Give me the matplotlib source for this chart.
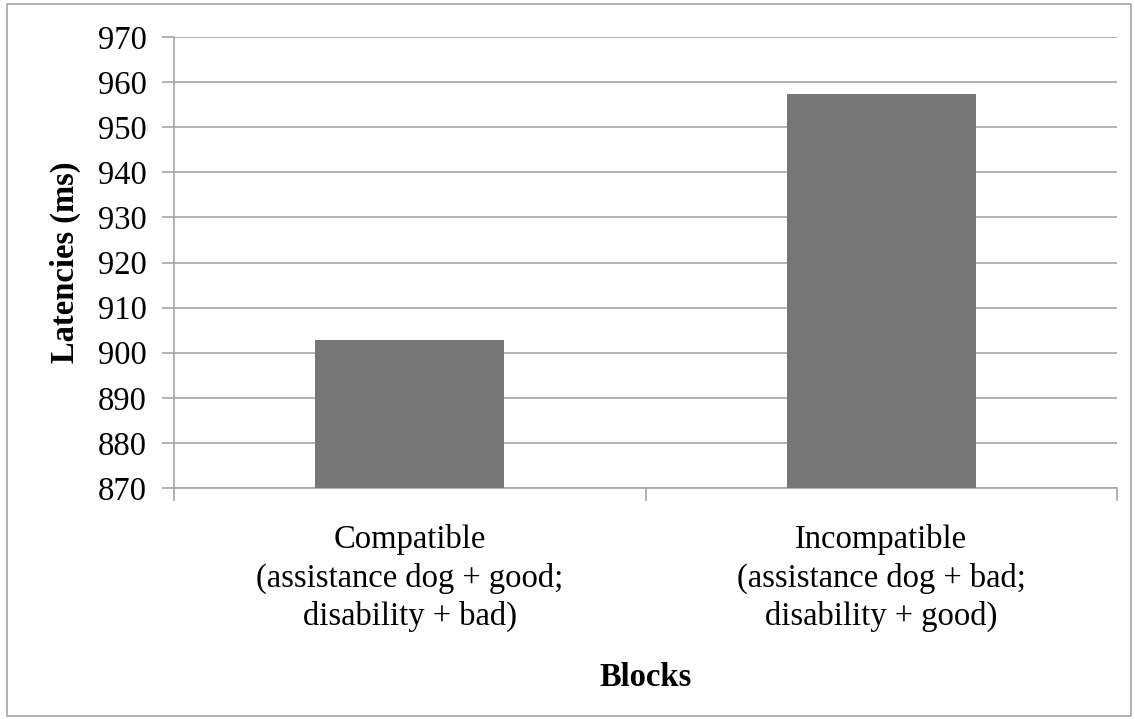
import matplotlib.pyplot as plt
from matplotlib.patches import Rectangle

categories = ["Compatible\n(assistance dog + good;\ndisability + bad)",
              "Incompatible\n(assistance dog + bad;\ndisability + good)"]
latencies = [902.8, 957.4]
y_ticks = list(range(870, 971, 10))

plt.rcParams['font.family'] = ['Liberation Serif', 'DejaVu Serif']

fig = plt.figure(figsize=(11.35, 7.19), dpi=100)
ax = fig.add_axes([174 / 1135, 1 - 488 / 719, (1117 - 174) / 1135, (488 - 37) / 719])

# outer chart border
fig.patches.append(Rectangle((7 / 1135, 3 / 719), 1124 / 1135, 712 / 719,
                             transform=fig.transFigure, fill=False,
                             edgecolor='#a6a6a6', linewidth=1.2))

x = [0.5, 1.5]
ax.bar(x, [v - 870 for v in latencies], bottom=870, width=0.4, color='#767676', zorder=3)
ax.set_xlim(0, 2)
ax.set_ylim(870, 970)
ax.set_yticks(y_ticks)
ax.set_yticklabels([str(t) for t in y_ticks], fontsize=23.5)
ax.yaxis.grid(True, color='#a6a6a6', linewidth=1.2, zorder=0)

ax.set_xticks([0, 1, 2])
ax.set_xticklabels([])
ax.set_xticks(x, minor=True)
ax.set_xticklabels(categories, minor=True, fontsize=23.5, linespacing=1.31)
ax.tick_params(axis='x', which='minor', length=0, pad=26)
ax.tick_params(axis='x', which='major', length=9, width=1.2, color='#a6a6a6', direction='out')
ax.tick_params(axis='y', length=9, width=1.2, color='#a6a6a6', direction='out', pad=10.5)

for side in ['top', 'right']:
    ax.spines[side].set_visible(False)
for side in ['left', 'bottom']:
    ax.spines[side].set_color('#a6a6a6')
    ax.spines[side].set_linewidth(1.2)

ax.set_ylabel("Latencies (ms)", fontsize=23.5, fontweight='bold', labelpad=12)
ax.set_xlabel("Blocks", fontsize=23.5, fontweight='bold', labelpad=21)

fig.savefig("out.png", dpi=100)
